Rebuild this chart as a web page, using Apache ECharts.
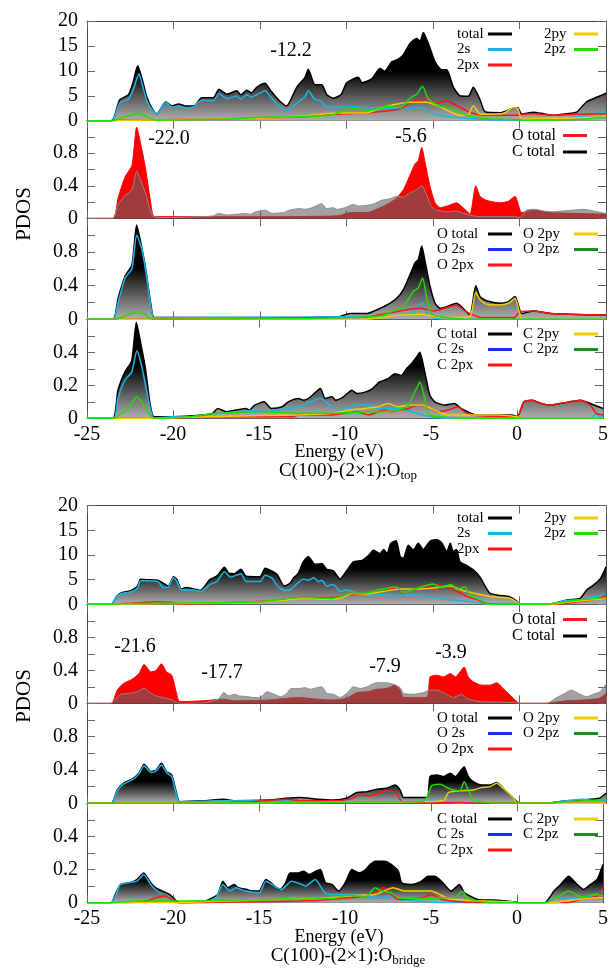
<!DOCTYPE html>
<html lang="en">
<head>
<meta charset="UTF-8">
<title>PDOS - C(100)-(2×1):O</title>
<script src="https://cdn.jsdelivr.net/npm/echarts@6/dist/echarts.min.js"></script>
<style>
    * { margin: 0; padding: 0; box-sizing: border-box; }
    body { background: #fff; }
    #chart { width: 611px; height: 975px; }
</style>
</head>
<body>
<div id="chart"></div>
<script>
// axis ticks
const energyTicks = [-25, -20, -15, -10, -5, 0, 5];
const totTicks = [0, 5, 10, 15, 20];
const halfTicks = [0, 0.4, 0.8];
const cTicks = [0, 0.2, 0.4];

// ===== C(100)-(2x1):O top =====
const topTotal = [[-25,0],[-23.6,0],[-23.45,0.5],[-23.1,4.2],[-22.6,5.2],[-22.35,7.5],[-22.07,11.0],[-21.8,8.2],[-21.55,4.8],[-21.2,2.2],[-20.97,1.35],[-20.7,2.6],[-20.45,3.8],[-20.1,2.95],[-19.7,3.35],[-19.3,2.95],[-18.8,3.0],[-18.37,4.6],[-17.7,4.6],[-17.37,6.3],[-16.9,5.3],[-16.35,6.0],[-16.1,5.2],[-15.77,6.1],[-15.5,5.6],[-15.19,6.7],[-14.71,7.5],[-14.4,6.1],[-13.94,4.2],[-13.46,2.95],[-12.88,6.7],[-12.4,8.7],[-12.21,10.3],[-11.82,7.2],[-11.43,7.2],[-11.14,5.2],[-10.76,4.5],[-10.3,5.3],[-9.99,7.6],[-9.32,8.7],[-9.1,7.6],[-8.54,8.4],[-8.06,10.5],[-7.8,9.9],[-7.39,11.8],[-7.1,12.2],[-6.72,13.2],[-6.33,15.5],[-5.94,16.5],[-5.75,15.9],[-5.56,17.7],[-5.27,15.5],[-4.88,11.8],[-4.5,10.2],[-4.2,10.2],[-3.83,6.8],[-3.44,5.0],[-2.96,4.9],[-2.67,6.7],[-2.28,4.2],[-1.99,1.8],[-1.13,1.6],[-0.36,2.5],[-0.1,2.6],[0.13,1.35],[0.8,1.7],[1.4,1.4],[1.95,1.1],[2.73,1.4],[3.3,1.7],[3.88,3.8],[4.46,4.7],[5,5.5]];
const top2s = [[-25,0],[-23.6,0],[-23.45,0.4],[-23.1,3.6],[-22.6,4.3],[-22.3,6.5],[-22.0,9.4],[-21.8,7.2],[-21.55,4.1],[-21.2,2.0],[-20.97,1.35],[-20.7,2.5],[-20.45,3.8],[-20.1,2.7],[-19.7,2.95],[-19.3,2.6],[-18.9,2.7],[-18.37,4.1],[-17.7,4.0],[-17.37,5.4],[-16.9,4.4],[-16.35,4.95],[-16.1,4.3],[-15.77,5.2],[-15.5,4.7],[-15.19,5.2],[-14.71,6.0],[-14.4,4.8],[-13.94,3.0],[-13.46,2.0],[-12.88,3.5],[-12.4,4.8],[-12.21,6.0],[-11.82,4.2],[-11.5,4.0],[-11.2,2.8],[-10.95,2.7],[-9.8,2.8],[-7.9,2.5],[-6.1,2.5],[-5.65,2.7],[-5.0,1.4],[-3.83,0.7],[-2.28,0.3],[-1.5,0.15],[0,0.15],[1,0.2],[2.73,0.5],[3.88,1.1],[5,1.9]];
const top2px = [[-25,0],[-23.5,0],[-23,0.2],[-21,0.2],[-18,0.3],[-15,0.5],[-12.7,0.8],[-10.76,1.3],[-8.8,1.6],[-6.9,2.4],[-6.1,4.0],[-5.75,4.2],[-5.27,4.4],[-4.8,3.5],[-4.2,4.0],[-3.83,3.4],[-3.44,2.7],[-2.88,1.7],[-2.1,1.1],[-0.2,1.1],[0.2,1.3],[0.8,1.4],[1.95,1.1],[3.1,1.3],[5,1.4]];
const top2py = [[-25,0],[-23.5,0],[-23,0.1],[-20,0.2],[-16,0.4],[-14,0.6],[-12.7,0.9],[-10.76,1.5],[-8.8,1.6],[-8.06,2.5],[-7.3,3.2],[-6.33,3.7],[-5.36,3.7],[-4.6,2.8],[-3.44,1.1],[-2.96,1.2],[-2.67,3.0],[-2.28,1.3],[-1.9,1.3],[-0.9,1.5],[-0.36,2.6],[-0.1,2.4],[0.13,0.3],[0.8,0.4],[4.6,0.7],[5,1.0]];
const top2pz = [[-25,0],[-23.5,0],[-23,0.6],[-22.5,1.1],[-22.0,1.5],[-21.5,0.7],[-21.0,0.1],[-19,0.2],[-17,0.3],[-14.8,0.7],[-12.7,0.8],[-10.76,1.2],[-9.8,2.5],[-8.8,2.0],[-7.5,2.9],[-6.9,2.6],[-6.33,4.5],[-5.94,5.3],[-5.6,6.9],[-5.27,4.4],[-4.6,2.9],[-4.0,2.5],[-3.06,1.1],[-1.9,0.4],[0,0.2],[0.2,0.1],[3,0.2],[5,0.7]];

const topOtot = [[-25,0],[-23.5,0],[-23.2,0.25],[-22.8,0.51],[-22.4,0.65],[-22.13,1.12],[-21.85,0.87],[-21.6,0.59],[-21.3,0.17],[-21.1,0.02],[-15,0.02],[-10.5,0.03],[-9.8,0.07],[-8.8,0.07],[-8.06,0.13],[-7.5,0.19],[-7.1,0.25],[-6.72,0.35],[-6.33,0.53],[-6.04,0.67],[-5.85,0.71],[-5.65,0.87],[-5.46,0.69],[-5.17,0.39],[-4.88,0.19],[-4.59,0.13],[-4.2,0.15],[-3.64,0.19],[-3.16,0.11],[-2.86,0.05],[-2.53,0.4],[-2.28,0.27],[-1.9,0.22],[-1.13,0.19],[-0.64,0.21],[-0.26,0.27],[0.03,0.1],[0.13,0.07],[0.8,0.1],[1.8,0.07],[5,0.05]];
const topO2s = [[-25,0],[-23.5,0],[-23.2,0.2],[-22.8,0.49],[-22.4,0.6],[-22.13,1.0],[-21.85,0.85],[-21.6,0.57],[-21.3,0.14],[-21.1,0.02],[-15,0.02],[-10,0.03],[-7.5,0.04],[-6.1,0.08],[-5.65,0.2],[-5.4,0.08],[-4.97,0.02],[-4,0],[5,0]];
const topO2px = [[-25,0],[-9,0.02],[-7.7,0.07],[-6.9,0.1],[-5.75,0.13],[-4.97,0.1],[-4.5,0.12],[-3.64,0.17],[-3.16,0.1],[-2.67,0.05],[-2.2,0.02],[-0.3,0.02],[0.03,0.09],[0.8,0.1],[1.8,0.07],[5,0.05]];
const topO2py = [[-25,0],[-9,0],[-6.9,0.05],[-5.55,0.06],[-4.6,0.02],[-2.96,0.02],[-2.76,0.09],[-2.53,0.32],[-2.28,0.23],[-1.9,0.18],[-1.13,0.17],[-0.64,0.19],[-0.26,0.25],[0.03,0.05],[0.15,0],[5,0]];
const topO2pz = [[-25,0],[-23.4,0],[-22.8,0.04],[-22.1,0.09],[-21.6,0.05],[-21.2,0],[-12,0.01],[-8,0.04],[-7.3,0.1],[-6.72,0.15],[-6.14,0.33],[-5.85,0.37],[-5.6,0.49],[-5.36,0.25],[-5.07,0.06],[-4.6,0.03],[-4.2,0.02],[-3,0],[5,0]];

const topCtot = [[-25,0],[-23.5,0],[-23.2,0.17],[-22.8,0.28],[-22.4,0.35],[-22.13,0.58],[-21.85,0.44],[-21.6,0.3],[-21.35,0.1],[-21.1,0.01],[-20,0.01],[-18.3,0.02],[-17.7,0.03],[-17.4,0.06],[-16.9,0.04],[-15.77,0.06],[-15.55,0.05],[-15.25,0.08],[-14.7,0.1],[-14.3,0.06],[-13.65,0.07],[-13.3,0.1],[-12.7,0.12],[-12.4,0.11],[-12.0,0.13],[-11.43,0.18],[-11.15,0.12],[-10.76,0.13],[-10.55,0.11],[-10.1,0.13],[-9.6,0.17],[-9.3,0.15],[-8.8,0.16],[-8.4,0.18],[-8.0,0.22],[-7.5,0.24],[-7.1,0.27],[-6.72,0.26],[-6.43,0.3],[-6.14,0.33],[-5.85,0.37],[-5.65,0.4],[-5.36,0.28],[-5.07,0.14],[-4.78,0.1],[-4.2,0.08],[-3.64,0.09],[-3.25,0.06],[-2.67,0.03],[-2.28,0.02],[-0.3,0.02],[0.03,0.01],[0.4,0.1],[0.9,0.11],[1.4,0.09],[1.95,0.08],[2.5,0.09],[3.1,0.1],[3.7,0.11],[4.27,0.09],[5,0.06]];
const topC2s = [[-25,0],[-23.45,0],[-23.2,0.12],[-22.8,0.23],[-22.4,0.28],[-22.1,0.41],[-21.85,0.33],[-21.6,0.2],[-21.3,0.05],[-21.1,0],[-20,0.01],[-17.7,0.01],[-17.4,0.03],[-16,0.04],[-15.2,0.05],[-14.7,0.04],[-13.3,0.06],[-12.7,0.07],[-11.43,0.12],[-10.76,0.07],[-10.2,0.05],[-9.4,0.08],[-8.6,0.08],[-8.0,0.06],[-6.9,0.06],[-6.1,0.04],[-5.5,0.02],[-5,0.01],[-4,0],[4.3,0],[4.6,0.03],[4.85,0.01],[5,0.01]];
const topC2px = [[-25,0],[-21,0],[-18,0.01],[-13,0.01],[-12.7,0.02],[-10.76,0.02],[-9.3,0.04],[-8.6,0.02],[-8.06,0.04],[-7.7,0.05],[-7.3,0.04],[-6.9,0.05],[-6.3,0.06],[-5.75,0.08],[-5.2,0.07],[-4.6,0.04],[-4.0,0.05],[-3.44,0.07],[-3.06,0.04],[-2.67,0.02],[-0.3,0.01],[0.03,0.01],[0.4,0.1],[0.9,0.11],[1.4,0.09],[1.95,0.08],[2.5,0.09],[3.1,0.1],[3.7,0.11],[4.27,0.08],[4.6,0.03],[5,0.02]];
const topC2py = [[-25,0],[-21,0],[-18,0.01],[-12.7,0.02],[-10.76,0.03],[-9.8,0.05],[-8.8,0.06],[-8.06,0.07],[-7.5,0.09],[-6.9,0.07],[-6.3,0.08],[-5.55,0.08],[-5.2,0.07],[-4.6,0.04],[-4.0,0.02],[-2.7,0.02],[-1.1,0.02],[0,0.01],[0.2,0],[5,0]];
const topC2pz = [[-25,0],[-23.4,0],[-23,0.03],[-22.6,0.06],[-22.1,0.13],[-21.7,0.08],[-21.4,0.03],[-21.1,0],[-19,0.01],[-17.4,0.03],[-14.7,0.04],[-12.7,0.03],[-10.76,0.03],[-8.8,0.04],[-7.9,0.04],[-6.9,0.05],[-6.3,0.08],[-6.04,0.14],[-5.75,0.2],[-5.65,0.22],[-5.45,0.16],[-5.25,0.06],[-5.07,0.02],[-4.5,0.01],[-3,0],[5,0]];

// ===== C(100)-(2x1):O bridge =====
const briTotal = [[-25,0],[-23.6,0],[-23.3,1.55],[-23.0,2.35],[-22.5,2.7],[-22.1,3.6],[-21.9,5.1],[-21.55,5.0],[-20.9,4.9],[-20.6,4.3],[-20.3,3.7],[-20.0,5.6],[-19.8,5.0],[-19.55,3.1],[-19.3,3.4],[-18.8,3.1],[-18.45,2.8],[-17.9,5.0],[-17.5,5.7],[-17.05,7.5],[-16.8,6.3],[-16.5,6.2],[-16.1,7.1],[-15.8,5.7],[-15.0,5.6],[-14.7,7.3],[-14.3,6.7],[-14.0,6.0],[-13.6,3.7],[-13.25,4.3],[-13.05,5.4],[-12.8,6.2],[-12.5,8.6],[-12.21,9.7],[-11.82,8.1],[-11.43,8.3],[-11.14,7.1],[-10.76,6.8],[-10.37,5.1],[-9.99,6.8],[-9.6,8.6],[-9.1,8.9],[-8.64,10.2],[-8.45,11.0],[-8.06,10.3],[-7.85,11.1],[-7.65,10.3],[-7.44,12.4],[-7.13,12.9],[-6.9,9.7],[-6.72,9.3],[-6.43,12.0],[-6.14,11.0],[-5.85,12.4],[-5.56,11.1],[-5.27,12.4],[-5.07,13.0],[-4.78,13.1],[-4.5,12.5],[-4.2,10.7],[-4.0,12.4],[-3.83,10.7],[-3.64,11.1],[-3.44,8.6],[-3.06,7.9],[-2.67,7.0],[-2.28,5.5],[-1.99,3.7],[-1.7,2.2],[-1.13,1.8],[-0.55,1.5],[-0.17,0.7],[0.03,0],[1.58,0],[1.95,0.1],[2.73,0.9],[3.5,1.2],[3.88,2.9],[4.27,3.9],[4.66,5.1],[5,7.6]];
const bri2s = [[-25,0],[-23.6,0],[-23.3,1.5],[-23.0,2.2],[-22.5,2.5],[-22.1,3.2],[-21.9,4.8],[-21.55,4.8],[-20.9,4.6],[-20.6,3.4],[-20.3,3.5],[-20.0,5.4],[-19.8,4.6],[-19.55,2.9],[-18.8,2.9],[-18.45,2.6],[-17.9,4.0],[-17.5,4.6],[-17.05,6.6],[-16.7,5.5],[-16.1,6.2],[-15.8,4.6],[-15.0,4.6],[-14.7,5.9],[-14.3,5.3],[-14.0,3.7],[-13.6,2.8],[-13.25,2.9],[-12.95,3.9],[-12.5,5.1],[-12.2,4.9],[-11.9,5.4],[-11.6,4.6],[-11.43,4.9],[-11.14,3.7],[-10.76,4.0],[-10.37,2.6],[-9.99,2.9],[-8.8,1.8],[-7.7,2.0],[-7.1,1.7],[-6.14,2.0],[-4.97,1.5],[-4.0,0.9],[-3.06,0.6],[-2.28,0.3],[-1.9,0],[1.6,0],[2.73,0.8],[3.5,0.9],[4.27,1.5],[5,2.0]];
const bri2px = [[-25,0],[-23.5,0],[-22.5,0.2],[-21.5,0.4],[-20.9,0.5],[-20.2,0.4],[-19.5,0.1],[-17,0.3],[-14,0.8],[-12.7,1.4],[-10.76,1.4],[-9.8,1.9],[-8.8,2.3],[-7.9,3.1],[-7.5,3.1],[-7.1,3.3],[-6.72,2.3],[-6.14,3.1],[-5.36,3.3],[-4.88,4.0],[-4.4,3.7],[-3.83,3.0],[-3.44,2.3],[-3.06,1.6],[-2.5,1.0],[-1.9,0.2],[-1.5,0],[1.9,0],[3,0.3],[4.27,0.9],[5,1.8]];
const bri2py = [[-25,0],[-23.5,0],[-21,0.1],[-18,0.2],[-15,0.5],[-13.4,0.9],[-12.5,1.2],[-10.76,1.0],[-10.2,1.4],[-9.6,2.2],[-8.8,2.1],[-7.9,2.6],[-6.9,3.1],[-5.9,3.1],[-4.97,3.3],[-4.0,3.7],[-3.44,3.0],[-3.06,2.6],[-2.28,2.0],[-1.7,1.6],[-1.13,1.4],[-0.55,1.2],[-0.17,0.5],[0.03,0],[1.8,0],[2.73,0.4],[5,1.2]];
const bri2pz = [[-25,0],[-23.5,0],[-23,0.1],[-21,0.2],[-18,0.3],[-15,0.5],[-12.7,1.4],[-10.76,1.2],[-9.8,2.2],[-8.8,2.3],[-8.06,3.0],[-7.1,3.5],[-6.72,2.4],[-6.14,3.0],[-4.97,4.1],[-4.6,3.5],[-3.93,4.0],[-3.64,3.0],[-3.16,3.5],[-2.86,1.8],[-2.28,0.9],[-1.7,0],[1.6,0],[1.95,0.2],[3.7,1.0],[5,1.4]];

const briOtot = [[-25,0],[-23.6,0],[-23.25,0.16],[-22.9,0.24],[-22.4,0.29],[-22.0,0.36],[-21.7,0.47],[-21.3,0.38],[-21.0,0.4],[-20.7,0.48],[-20.4,0.38],[-20.1,0.34],[-19.8,0.1],[-19.65,0.02],[-18.3,0.03],[-17.1,0.05],[-16.5,0.03],[-14.5,0.04],[-13.5,0.06],[-12.7,0.07],[-11.7,0.05],[-10.76,0.04],[-10.0,0.06],[-9.4,0.13],[-8.8,0.14],[-8.25,0.17],[-7.7,0.18],[-7.2,0.22],[-6.9,0.16],[-6.7,0.07],[-5.36,0.07],[-5.17,0.32],[-4.78,0.34],[-4.4,0.32],[-4.0,0.36],[-3.7,0.32],[-3.44,0.38],[-3.2,0.44],[-2.96,0.32],[-2.67,0.26],[-2.19,0.22],[-1.7,0.22],[-1.32,0.25],[-0.95,0.18],[-0.36,0.06],[-0.1,0.01],[0.05,0],[1.5,0],[1.95,0.01],[2.7,0.03],[3.7,0.04],[4.6,0.06],[5,0.12]];
const briO2s = [[-25,0],[-23.6,0],[-23.25,0.15],[-22.9,0.23],[-22.4,0.28],[-22.0,0.35],[-21.7,0.45],[-21.3,0.37],[-21.0,0.39],[-20.7,0.46],[-20.4,0.37],[-20.1,0.32],[-19.8,0.08],[-19.65,0.02],[-17,0.03],[-14.5,0.03],[-11,0.02],[-6,0.02],[-5.2,0.03],[-4.97,0.04],[-4.4,0.02],[-3.5,0],[1.5,0],[2.7,0.03],[3.7,0.05],[4.3,0.03],[5,0.03]];
const briO2px = [[-25,0],[-19,0],[-16,0.01],[-13.4,0.05],[-12.7,0.03],[-10.76,0.03],[-9.8,0.05],[-9.2,0.1],[-8.6,0.09],[-8.06,0.13],[-7.6,0.15],[-7.13,0.13],[-6.8,0.02],[-5,0.01],[-3.5,0.01],[-2,0],[5,0]];
const briO2py = [[-25,0],[-19,0],[-12,0.01],[-6,0.02],[-4.4,0.03],[-4.1,0.13],[-3.44,0.15],[-2.67,0.16],[-2.19,0.19],[-1.7,0.2],[-1.32,0.24],[-0.95,0.18],[-0.36,0.06],[-0.1,0],[5,0]];
const briO2pz = [[-25,0],[-19,0],[-12,0.01],[-7,0.02],[-5.6,0.02],[-5.36,0.07],[-5.07,0.21],[-4.59,0.23],[-4.2,0.19],[-3.83,0.16],[-3.44,0.15],[-3.2,0.26],[-2.96,0.16],[-2.67,0.04],[-2.19,0.02],[-1.3,0],[1.8,0],[2.7,0.02],[4.6,0.04],[5,0.05]];

const briCtot = [[-25,0],[-23.6,0],[-23.35,0.05],[-23.05,0.11],[-22.5,0.12],[-22.1,0.14],[-21.7,0.18],[-21.3,0.12],[-21.0,0.09],[-20.6,0.07],[-20.2,0.05],[-19.8,0.01],[-19.6,0],[-18.3,0.005],[-17.9,0.02],[-17.4,0.05],[-17.1,0.13],[-16.8,0.09],[-16.45,0.11],[-16.2,0.09],[-15.7,0.08],[-15.4,0.07],[-15.0,0.07],[-14.6,0.14],[-14.3,0.12],[-13.8,0.08],[-13.45,0.12],[-13.2,0.18],[-12.7,0.18],[-12.4,0.19],[-12.1,0.17],[-11.7,0.19],[-11.43,0.2],[-11.14,0.12],[-10.76,0.11],[-10.37,0.07],[-9.99,0.12],[-9.6,0.2],[-9.2,0.18],[-8.8,0.2],[-8.54,0.23],[-8.25,0.25],[-7.7,0.25],[-7.3,0.23],[-6.9,0.19],[-6.7,0.12],[-6.14,0.11],[-5.55,0.13],[-5.17,0.16],[-4.78,0.16],[-4.4,0.13],[-3.83,0.07],[-3.35,0.11],[-3.06,0.06],[-2.28,0.02],[-1.1,0.015],[-0.1,0.005],[0.05,0],[1.6,0],[2.15,0.07],[2.54,0.11],[3.0,0.16],[3.5,0.11],[3.88,0.08],[4.27,0.11],[4.66,0.14],[5,0.23]];
const briC2s = [[-25,0],[-23.6,0],[-23.35,0.04],[-23.05,0.11],[-22.1,0.13],[-21.7,0.17],[-21.3,0.11],[-20.8,0.06],[-20.2,0.02],[-19.9,0],[-18,0],[-17.5,0.03],[-17.1,0.11],[-16.7,0.07],[-16.35,0.09],[-15.8,0.07],[-15.0,0.06],[-14.6,0.13],[-14.1,0.1],[-13.7,0.08],[-13.1,0.13],[-12.5,0.11],[-12.3,0.1],[-11.73,0.14],[-11.25,0.07],[-10.95,0.05],[-9.4,0.05],[-8.06,0.03],[-7.5,0.04],[-6.9,0.02],[-5.5,0.01],[-4.5,0],[2.3,0],[2.54,0.02],[3.3,0.03],[3.7,0.02],[5,0.07]];
const briC2px = [[-25,0],[-22.5,0],[-21.5,0.01],[-21.0,0.03],[-20.5,0.04],[-20.1,0.02],[-19.7,0],[-15,0.005],[-12.7,0.01],[-10.76,0.02],[-9.8,0.03],[-8.8,0.04],[-8.06,0.07],[-7.8,0.09],[-7.5,0.07],[-7.2,0.04],[-6.9,0.02],[-5.5,0.03],[-4.97,0.05],[-4.4,0.02],[-3.83,0.01],[-2,0],[3,0],[3.7,0.02],[4.27,0.03],[4.66,0.04],[5,0.09]];
const briC2py = [[-25,0],[-20,0],[-17,0.01],[-14,0.02],[-12.7,0.03],[-11.5,0.025],[-10.4,0.035],[-9.2,0.045],[-8.25,0.05],[-7.2,0.09],[-6.5,0.07],[-5.75,0.07],[-4.97,0.07],[-4.5,0.05],[-4.0,0.025],[-3.06,0.015],[-1.9,0.01],[-0.3,0.005],[0,0],[2,0],[2.73,0.01],[4.66,0.03],[5,0.03]];
const briC2pz = [[-25,0],[-23.5,0],[-22,0.01],[-20,0.01],[-17,0.015],[-14,0.02],[-12.7,0.03],[-10.76,0.025],[-9.8,0.045],[-8.8,0.035],[-8.25,0.09],[-7.85,0.07],[-7.3,0.06],[-6.9,0.03],[-5.36,0.025],[-4.2,0.03],[-3.6,0.03],[-3.2,0.07],[-2.86,0.025],[-2.28,0.01],[-1.5,0],[1.6,0],[1.95,0.01],[2.54,0.045],[3.0,0.07],[3.5,0.045],[3.88,0.035],[4.46,0.05],[5,0.045]];

// ---------- layout / styles ----------
const FONT = '"Liberation Serif", "DejaVu Serif", serif';
const AX = '#444';
const COL = { s: '#19b5ea', px: '#ff1414', py: '#f0cc00', pz: '#22dd00' };

// panel boxes (px), panel kinds
const panels = [
    { top: 21, height: 99.7, kind: 'tot' },
    { top: 120.7, height: 97.6, kind: 'half' },
    { top: 218.3, height: 101, kind: 'half' },
    { top: 319.3, height: 99, kind: 'c' },
    { top: 505.7, height: 98.6, kind: 'tot' },
    { top: 604.3, height: 99, kind: 'half' },
    { top: 703.3, height: 100, kind: 'half' },
    { top: 803.3, height: 99.4, kind: 'c' }
];
const kinds = {
    tot: { max: 20, interval: 5, labels: totTicks },
    half: { max: 1.2, interval: 0.2, labels: halfTicks },
    c: { max: 0.6, interval: 0.1, labels: cTicks }
};

const grid = [], xAxis = [], yAxis = [];
panels.forEach((p, g) => {
    grid.push({ left: 87, right: 5, top: p.top, height: p.height });
    const k = kinds[p.kind];
    const showX = g === 3 || g === 7;
    const xBase = {
        type: 'value', gridIndex: g, min: energyTicks[0], max: energyTicks[energyTicks.length - 1], interval: 5,
        axisLine: { show: true, onZero: false, lineStyle: { color: AX, width: 1 } },
        axisTick: { show: true, inside: true, length: 8, lineStyle: { color: '#666' } },
        splitLine: { show: false }
    };
    xAxis.push(Object.assign({}, xBase, {
        position: 'bottom',
        axisLabel: { show: showX, fontFamily: FONT, fontSize: 20, color: '#000', margin: 6 }
    }));
    xAxis.push(Object.assign({}, xBase, { position: 'top', axisLabel: { show: false } }));

    const yBase = {
        type: 'value', gridIndex: g, min: 0, max: k.max, interval: k.interval,
        axisLine: { show: true, onZero: false, lineStyle: { color: AX, width: 1 } },
        axisTick: { show: true, inside: true, length: 8, lineStyle: { color: '#666' } },
        splitLine: { show: false }
    };
    yAxis.push(Object.assign({}, yBase, {
        position: 'left',
        axisLabel: {
            fontFamily: FONT, fontSize: 20, color: '#000', margin: 9,
            formatter: v => k.labels.some(t => Math.abs(t - v) < 1e-6) ? String(Math.round(v * 10) / 10) : ''
        }
    }));
    yAxis.push(Object.assign({}, yBase, { position: 'right', axisLabel: { show: false } }));
});

const shade = () => new echarts.graphic.LinearGradient(0, 0, 0, 1, [
    { offset: 0, color: '#000' }, { offset: 0.45, color: '#000' }, { offset: 1, color: '#b0b0b0' }
]);

function curve(name, data, g, color, extra) {
    return Object.assign({
        type: 'line', name: name, data: data, xAxisIndex: 2 * g, yAxisIndex: 2 * g,
        symbol: 'none', smooth: 0.2, animation: false, silent: true,
        lineStyle: { color: color, width: 1.5 }, itemStyle: { color: color }, z: 3
    }, extra || {});
}
function filled(name, data, g) {
    return curve(name, data, g, '#000', { areaStyle: { color: shade(), opacity: 1 }, z: 2 });
}

function groupSeries(go, p, d) {
    return [
        filled(p + 'tot', d.total, go),
        curve(p + 's', d.s, go, COL.s),
        curve(p + 'px', d.px, go, COL.px),
        curve(p + 'py', d.py, go, COL.py),
        curve(p + 'pz', d.pz, go, COL.pz),
        curve(p + 'Osum', d.Otot, go + 1, '#ff0000', { areaStyle: { color: '#ff0000', opacity: 1 }, lineStyle: { color: '#ff0000', width: 1 }, z: 2 }),
        curve(p + 'Csum', d.Ctot, go + 1, '#8c8c8c', { areaStyle: { color: 'rgba(100,100,100,0.6)', opacity: 1 }, lineStyle: { color: '#8c8c8c', width: 1 }, z: 3 }),
        filled(p + 'Otot', d.Otot, go + 2),
        curve(p + 'Os', d.Os, go + 2, COL.s),
        curve(p + 'Opx', d.Opx, go + 2, COL.px),
        curve(p + 'Opy', d.Opy, go + 2, COL.py),
        curve(p + 'Opz', d.Opz, go + 2, COL.pz),
        filled(p + 'Ctot', d.Ctot, go + 3),
        curve(p + 'Cs', d.Cs, go + 3, COL.s),
        curve(p + 'Cpx', d.Cpx, go + 3, COL.px),
        curve(p + 'Cpy', d.Cpy, go + 3, COL.py),
        curve(p + 'Cpz', d.Cpz, go + 3, COL.pz)
    ];
}

const series = [].concat(
    groupSeries(0, 'a', { total: topTotal, s: top2s, px: top2px, py: top2py, pz: top2pz,
        Otot: topOtot, Os: topO2s, Opx: topO2px, Opy: topO2py, Opz: topO2pz,
        Ctot: topCtot, Cs: topC2s, Cpx: topC2px, Cpy: topC2py, Cpz: topC2pz }),
    groupSeries(4, 'b', { total: briTotal, s: bri2s, px: bri2px, py: bri2py, pz: bri2pz,
        Otot: briOtot, Os: briO2s, Opx: briO2px, Opy: briO2py, Opz: briO2pz,
        Ctot: briCtot, Cs: briC2s, Cpx: briC2px, Cpy: briC2py, Cpz: briC2pz })
);

// legends: text left of a short line swatch
const labelOf = {};
const legend = [];
function addLegend(items, right, top, w, size) {
    const fs = size || 15;
    items.forEach(it => { labelOf[it[0]] = it[1]; });
    legend.push({
        orient: 'vertical', align: 'right', right: right, top: top, padding: 0, itemGap: 0.5,
        itemWidth: 24, itemHeight: 3, icon: 'rect', selectedMode: false,
        data: items.map(it => ({ name: it[0], itemStyle: { color: it[2], borderWidth: 0 } })),
        formatter: n => '{t|' + labelOf[n] + '}',
        textStyle: {
            fontFamily: FONT, fontSize: fs, color: '#000', lineHeight: 15,
            rich: { t: { width: w, align: 'left', fontFamily: FONT, fontSize: fs, lineHeight: 15, color: '#000' } }
        }
    });
}
[['a', 26.5, 127.5, 226.5, 326.5], ['b', 510.5, 611.5, 710.5, 811.5]].forEach(([p, t1, t2, t3, t4]) => {
    addLegend([[p + 'tot', 'total', '#000'], [p + 's', '2s', COL.s], [p + 'px', '2px', COL.px]], 99, t1, 26);
    addLegend([[p + 'py', '2py', COL.py], [p + 'pz', '2pz', COL.pz]], 13, t1, 25);
    addLegend([[p + 'Osum', 'O total', '#ff1a1a'], [p + 'Csum', 'C total', '#000']], 24, t2, 46, 16);
    addLegend([[p + 'Otot', 'O total', '#000'], [p + 'Os', 'O 2s', '#1a2cf0'], [p + 'Opx', 'O 2px', COL.px]], 99, t3, 46);
    addLegend([[p + 'Opy', 'O 2py', COL.py], [p + 'Opz', 'O 2pz', '#1a8c1a']], 13, t3, 46);
    addLegend([[p + 'Ctot', 'C total', '#000'], [p + 'Cs', 'C 2s', '#1a2cf0'], [p + 'Cpx', 'C 2px', COL.px]], 99, t4, 46);
    addLegend([[p + 'Cpy', 'C 2py', COL.py], [p + 'Cpz', 'C 2pz', '#1a8c1a']], 13, t4, 46);
});

// peak labels and titles
function txt(x, y, text, size, extra) {
    return Object.assign({
        type: 'text', x: x, y: y, silent: true,
        style: { text: text, font: size + 'px ' + FONT, fill: '#000', align: 'center', verticalAlign: 'middle' }
    }, extra || {});
}
const subRich = { s: { fontFamily: FONT, fontSize: 13, padding: [9, 0, 0, 0] } };
const graphic = [
    txt(24, 214, 'PDOS', 21, { rotation: Math.PI / 2 }),
    txt(24, 696, 'PDOS', 21, { rotation: Math.PI / 2 }),
    txt(291, 51, '-12.2', 20), txt(169, 139, '-22.0', 20), txt(411, 137, '-5.6', 20),
    txt(135, 647, '-21.6', 20), txt(222, 673, '-17.7', 20), txt(385, 667, '-7.9', 20), txt(451, 653, '-3.9', 20),
    txt(339, 452, 'Energy (eV)', 18), txt(339, 937.5, 'Energy (eV)', 18),
    { type: 'text', x: 348, y: 471, silent: true,
      style: { text: 'C(100)-(2×1):O{s|top}', font: '19px ' + FONT, fill: '#000', align: 'center', verticalAlign: 'middle', rich: subRich } },
    { type: 'text', x: 348, y: 956, silent: true,
      style: { text: 'C(100)-(2×1):O{s|bridge}', font: '19px ' + FONT, fill: '#000', align: 'center', verticalAlign: 'middle', rich: subRich } }
];

const chart = echarts.init(document.getElementById('chart'), null, { renderer: 'canvas' });
chart.setOption({
    animation: false,
    backgroundColor: '#fff',
    grid: grid,
    xAxis: xAxis,
    yAxis: yAxis,
    legend: legend,
    series: series,
    graphic: graphic
});
</script>
</body>
</html>
